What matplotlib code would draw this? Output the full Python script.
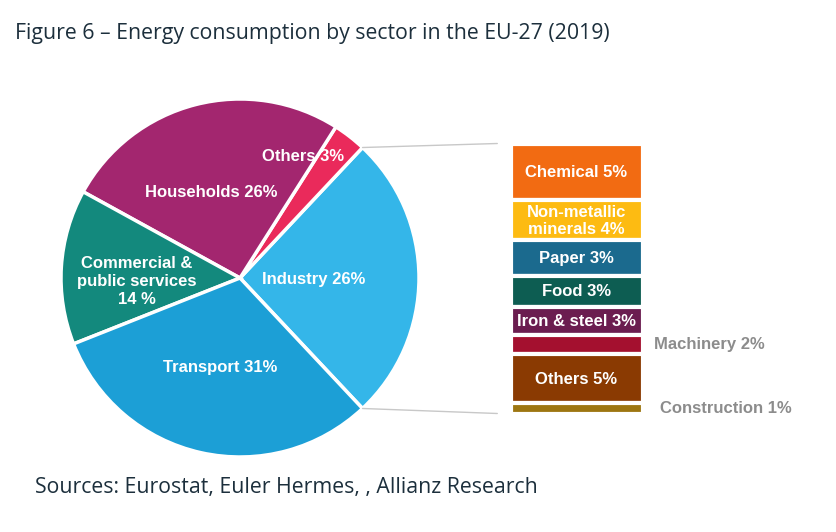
#! /usr/bin/env python3

"Energy consumption by sector in the EU-27 (2019) - pie with industry breakdown bar"

import numpy as np
import matplotlib
matplotlib.use("Agg")
import matplotlib.pyplot as plt
from matplotlib.patches import ConnectionPatch

# main pie
sector_share = [26, 3, 26, 14, 31]
sector_labels = ["Industry 26%", "Others 3%", "Households 26%",
                 "Commercial &\npublic services\n14 %", "Transport 31%"]
sector_colors = ["#34b6e9", "#ea2a5b", "#a3266f", "#13897d", "#1c9fd6"]

# industry breakdown (share of total energy)
industry_share = [5.49, 3.84, 3.45, 2.96, 2.67, 1.89, 4.71, 1.01]
industry_labels = ["Chemical 5%", "Non-metallic\nminerals 4%", "Paper 3%", "Food 3%",
                   "Iron & steel 3%", "Machinery 2%", "Others 5%", "Construction 1%"]
industry_colors = ["#f26b12", "#fdbb12", "#1b6a8e", "#0d5d52", "#6b1d50",
                   "#a4102f", "#8a3a02", "#9d7611"]
label_outside = [None, None, None, None, None, 0.585, None, 0.63]

title = "Figure 6 \u2013 Energy consumption by sector in the EU-27 (2019)"
source = "Sources: Eurostat, Euler Hermes, , Allianz Research"

W, H = 836, 532
fig = plt.figure(figsize=(W / 100, H / 100), dpi=100)
fig.patch.set_facecolor("white")

# pie axes: centre (240, 278) px, radius ~179 px
ax = fig.add_axes([61 / W, (H - 457) / H, 358 / W, 358 / H])
wedges, _ = ax.pie(sector_share, colors=sector_colors, startangle=-46.8,
                   counterclock=True,
                   wedgeprops=dict(edgecolor="white", linewidth=2.5))
ax.set_xlim(-1, 1)
ax.set_ylim(-1, 1)
ax.set_aspect("equal")

label_pos = [(0.41, -0.01), (0.35, 0.68), (-0.16, 0.48), (-0.575, -0.02), (-0.11, -0.50)]
for txt, (lx, ly) in zip(sector_labels, label_pos):
    ax.text(lx, ly, txt, ha="center", va="center", color="white",
            fontsize=12, fontweight="bold", family="Liberation Sans",
            linespacing=1.25)

# bar axes for industry breakdown
ax2 = fig.add_axes([510.5 / W, (H - 413.5) / H, 132 / W, 270 / H])
total = sum(industry_share)
bottoms = np.cumsum([0] + industry_share[:-1])
ax2.bar([0] * len(industry_share), industry_share, bottom=bottoms, width=1,
        color=industry_colors, edgecolor="white", linewidth=3)
ax2.set_xlim(-0.5, 0.5)
ax2.set_ylim(total, 0)
ax2.axis("off")

for txt, b, h, out in zip(industry_labels, bottoms, industry_share, label_outside):
    if out is not None:
        ax2.text(out, b + h / 2, txt, ha="left", va="center", color="#8c8c8c",
                 fontsize=12, fontweight="bold", family="Liberation Sans")
    else:
        ax2.text(0, b + h / 2 + 0.05, txt, ha="center", va="center", color="white",
                 fontsize=12, fontweight="bold", family="Liberation Sans",
                 linespacing=1.1)

# connector lines from the industry wedge to the bar
theta1, theta2 = wedges[0].theta1, wedges[0].theta2
for ang, yb in [(theta2, 0), (theta1, total)]:
    xa = np.cos(np.radians(ang))
    ya = np.sin(np.radians(ang))
    con = ConnectionPatch(xyA=(-0.6, yb), coordsA=ax2.transData,
                          xyB=(xa, ya), coordsB=ax.transData,
                          color="#c8c8c8", linewidth=1)
    fig.add_artist(con)

fig.text(15 / W, 1 - 33 / H, title, ha="left", va="center", fontsize=15.3,
         color="#1c2f3c", family="Open Sans")
fig.text(35 / W, 1 - 487 / H, source, ha="left", va="center", fontsize=15.3,
         color="#1c2f3c", family="Open Sans")

fig.savefig("out.png", dpi=100, facecolor="white")
